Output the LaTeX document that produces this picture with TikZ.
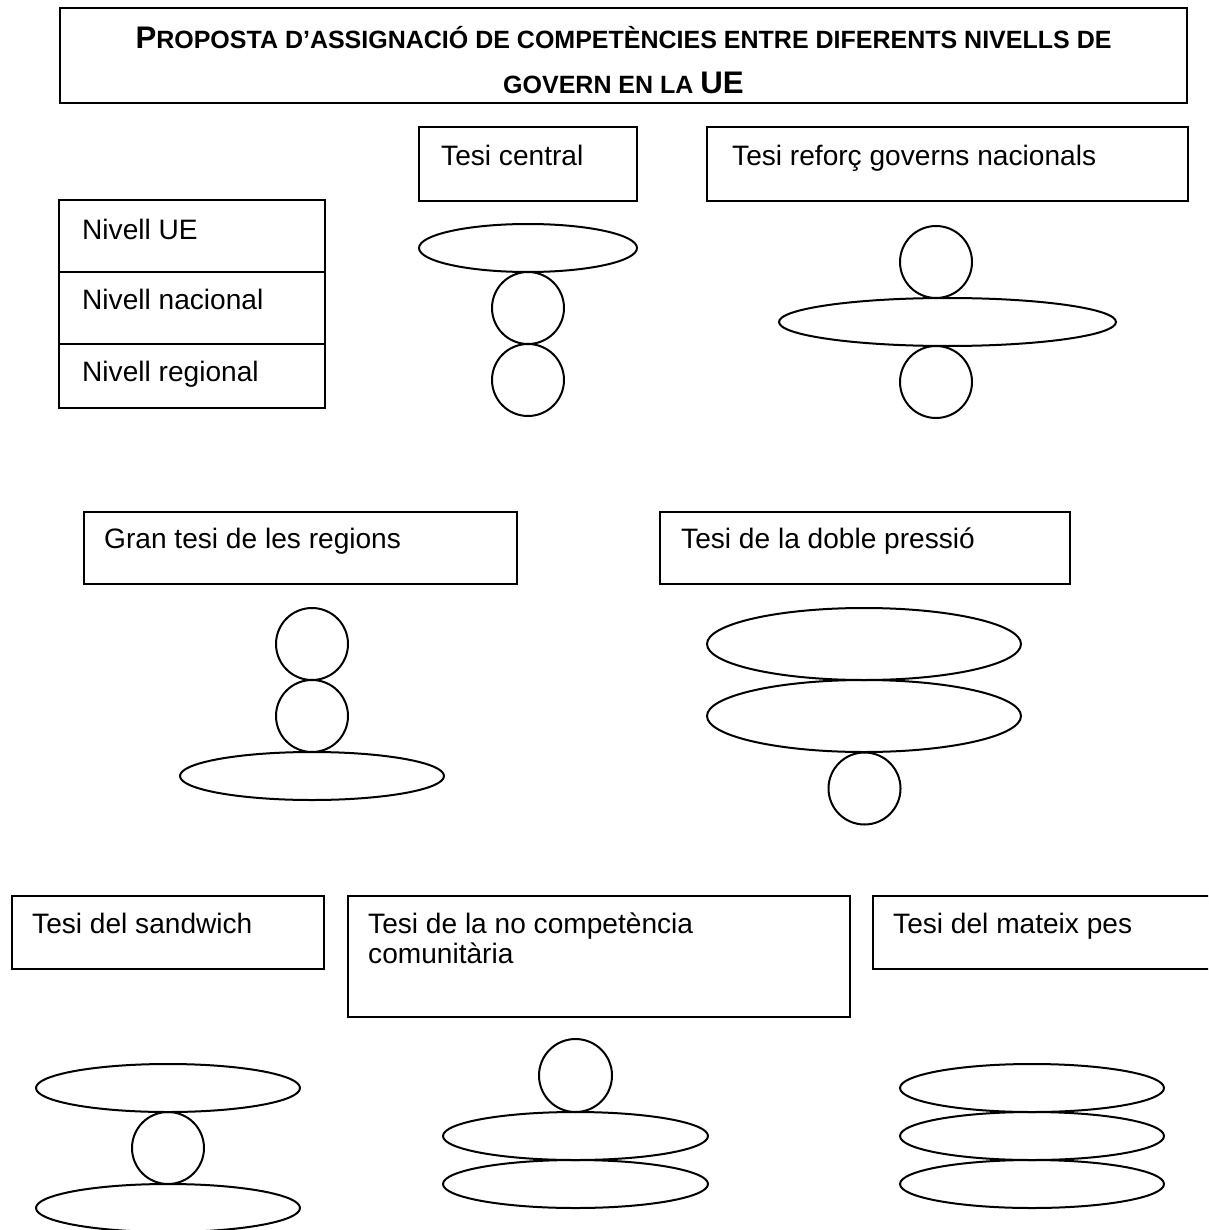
\documentclass[tikz,border=0pt]{standalone}
\usepackage{fontspec}
\setmainfont{Liberation Sans}
\usetikzlibrary{shapes.geometric}
\newcommand{\ttlbig}[1]{{\fontsize{31.2pt}{36pt}\selectfont #1}}
\newcommand{\ttlsmall}[1]{{\fontsize{25pt}{30pt}\selectfont #1}}
\begin{document}
\begin{tikzpicture}[x=1pt,y=-1pt,
  frame/.style={draw, rectangle, line width=2pt, inner sep=0pt, outer sep=0pt},
  lbl/.style={anchor=base west, inner sep=0pt, font=\fontsize{28.1pt}{31pt}\selectfont},
  ttl/.style={anchor=base, inner sep=0pt, font=\bfseries},
  disc/.style={draw, circle, line width=2pt, inner sep=0pt, minimum size=#1},
  oval/.style={draw, ellipse, line width=2pt, inner sep=0pt}]
\useasboundingbox (0,0) rectangle (1208,1230);
\clip (0,0) rectangle (1208,1230);
% title
\node[frame, minimum width=1127pt, minimum height=95pt] (title) at (623.5,55.5) {};
\node[ttl] (t1) at (623.5,48.3) {\ttlbig{P}\ttlsmall{ROPOSTA D’ASSIGNACIÓ DE COMPETÈNCIES ENTRE DIFERENTS NIVELLS DE}};
\node[ttl] (t2) at (623.5,93.3) {\ttlsmall{GOVERN EN LA }\ttlbig{UE}};
% levels legend
\node[frame, minimum width=266pt, minimum height=72pt] (ue) at (192,236) {};
\node[frame, minimum width=266pt, minimum height=72pt] (nac) at (192,308) {};
\node[frame, minimum width=266pt, minimum height=64pt] (reg) at (192,376) {};
\node[lbl] (lue) at (82,239.3) {Nivell UE};
\node[lbl] (lnac) at (82,309) {Nivell nacional};
\node[lbl] (lreg) at (82,381) {Nivell regional};
% Tesi central
\node[frame, minimum width=218pt, minimum height=74pt] (bcen) at (528,164) {};
\node[lbl] (lcen) at (441,165.7) {Tesi central};
\node[oval, minimum width=218pt, minimum height=48pt] (cenA) at (528,248) {};
\node[disc=72pt] (cenB) at (528,308) {};
\node[disc=72pt] (cenC) at (528,380) {};
% Tesi reforç
\node[frame, minimum width=481pt, minimum height=74pt] (bref) at (947.5,164) {};
\node[lbl] (lref) at (732,166) {Tesi reforç governs nacionals};
\node[disc=72pt] (refA) at (936,262) {};
\node[oval, minimum width=337pt, minimum height=48pt] (refB) at (947.5,322) {};
\node[disc=72pt] (refC) at (936,382) {};
% Gran tesi
\node[frame, minimum width=433pt, minimum height=72pt] (bgran) at (300,548) {};
\node[lbl] (lgran) at (104,548.3) {Gran tesi de les regions};
\node[disc=72pt] (granA) at (312,644) {};
\node[disc=72pt] (granB) at (312,716) {};
\node[oval, minimum width=264pt, minimum height=48pt] (granC) at (312,776) {};
% Doble pressió
\node[frame, minimum width=410pt, minimum height=72pt] (bdob) at (864.5,548) {};
\node[lbl] (ldob) at (681,548.3) {Tesi de la doble pressió};
\node[oval, minimum width=314pt, minimum height=72pt] (dobA) at (864,644) {};
\node[oval, minimum width=314pt, minimum height=72pt] (dobB) at (864,716) {};
\node[disc=72pt] (dobC) at (864.5,788.5) {};
% Sandwich
\node[frame, minimum width=312.5pt, minimum height=73pt] (bsan) at (167.75,932.5) {};
\node[lbl] (lsan) at (32,933.3) {Tesi del sandwich};
\node[oval, minimum width=264pt, minimum height=48pt] (sanA) at (168,1088) {};
\node[disc=72pt] (sanB) at (168,1148) {};
\node[oval, minimum width=264pt, minimum height=48pt] (sanC) at (168,1208) {};
% No competència
\node[frame, minimum width=502pt, minimum height=121pt] (bnoc) at (599,956.5) {};
\node[lbl] (lnoc) at (368,933.3) {Tesi de la no competència};
\node[lbl] (lnoc2) at (368,963.3) {comunitària};
\node[disc=73pt] (nocA) at (575.5,1075.5) {};
\node[oval, minimum width=265pt, minimum height=48pt] (nocB) at (575.5,1136) {};
\node[oval, minimum width=265pt, minimum height=48pt] (nocC) at (575.5,1184) {};
% Mateix pes
\node[frame, minimum width=367pt, minimum height=73pt] (bmat) at (1056.5,932.5) {};
\node[lbl] (lmat) at (893,933.3) {Tesi del mateix pes};
\node[oval, minimum width=264pt, minimum height=48pt] (matA) at (1032,1088) {};
\node[oval, minimum width=264pt, minimum height=48pt] (matB) at (1032,1136) {};
\node[oval, minimum width=264pt, minimum height=48pt] (matC) at (1032,1184) {};
\end{tikzpicture}
\end{document}
